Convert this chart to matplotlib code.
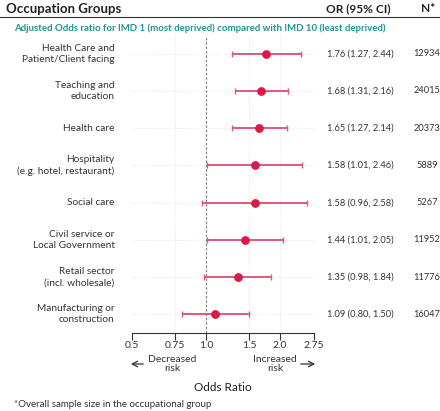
import matplotlib
matplotlib.use("Agg")
import matplotlib.pyplot as plt
import numpy as np

plt.rcParams['font.family'] = ['Lato', 'DejaVu Sans']

groups = ["Health Care and\nPatient/Client facing", "Teaching and\neducation", "Health care",
          "Hospitality\n(e.g. hotel, restaurant)", "Social care", "Civil service or\nLocal Government",
          "Retail sector\n(incl. wholesale)", "Manufacturing or\nconstruction"]
odds = [1.76, 1.68, 1.65, 1.58, 1.58, 1.44, 1.35, 1.09]
lower = [1.27, 1.31, 1.27, 1.01, 0.96, 1.01, 0.98, 0.80]
upper = [2.44, 2.16, 2.14, 2.46, 2.58, 2.05, 1.84, 1.50]
n_obs = [12934, 24015, 20373, 5889, 5267, 11952, 11776, 16047]
xticks = [0.5, 0.75, 1.0, 1.5, 2.0, 2.75]
xtick_labels = ["0.5", "0.75", "1.0", "1.5", "2.0", "2.75"]

W, H = 440, 411
fig = plt.figure(figsize=(W / 100, H / 100), dpi=100)

def fx(px):
    return px / W

def fy(py):
    return 1 - py / H

# axes: x 132..314 px, y 37..333 px
ax = fig.add_axes([fx(132), fy(333), fx(314 - 132), (333 - 37) / H])
ypos = np.arange(len(groups))[::-1]
ax.set_xscale('log')
ax.set_xlim(0.5, 2.75)
ax.set_ylim(-0.5, len(groups) - 0.55)

for y in ypos:
    ax.axhline(y, color='#e6e6e6', lw=0.8, ls=(0, (1, 1.5)), zorder=0)
for t in xticks[1:-1]:
    ax.axvline(t, color='#e6e6e6', lw=0.8, ls=(0, (1, 1.5)), zorder=0)
ax.axvline(1.0, color='#888888', lw=0.9, ls=(0, (2, 1.5)), zorder=1)

err = [np.array(odds) - np.array(lower), np.array(upper) - np.array(odds)]
ax.errorbar(odds, ypos, xerr=err, fmt='none', ecolor='#e0587a', elinewidth=1.4,
            capsize=2.5, capthick=1.0, zorder=2)
ax.scatter(odds, ypos, s=28, color='#d81b45', zorder=3)

ax.set_xticks(xticks)
ax.set_xticklabels(xtick_labels, fontsize=7.5, color='#333333')
ax.xaxis.set_minor_locator(matplotlib.ticker.NullLocator())
ax.tick_params(axis='x', length=5, width=0.8, color='#333333', pad=1)
ax.set_yticks([])
for s in ['top', 'right', 'left']:
    ax.spines[s].set_visible(False)
ax.spines['bottom'].set_color('#333333')

# row texts
for y, g, o, lo, hi, n in zip(ypos, groups, odds, lower, upper, n_obs):
    ax.text(-0.095, y, g, transform=ax.get_yaxis_transform(), ha='right', va='center',
            fontsize=7.3, color='#333333', linespacing=1.3)
    ax.text(1.256, y, f"{o:.2f} ({lo:.2f}, {hi:.2f})", transform=ax.get_yaxis_transform(),
            ha='center', va='center', fontsize=6.7, color='#333333')
    ax.text(1.62, y, f"{n}", transform=ax.get_yaxis_transform(),
            ha='center', va='center', fontsize=6.7, color='#333333')

# header
fig.text(fx(6), fy(9), "Occupation Groups", fontsize=9.5, fontweight='bold', color='#222222', va='center')
fig.text(fx(358), fy(9), "OR (95% CI)", fontsize=8.6, fontweight='bold', color='#222222', va='center', ha='center')
fig.text(fx(428), fy(9), "N*", fontsize=8.6, fontweight='bold', color='#222222', va='center', ha='center')
fig.add_artist(plt.Line2D([0, 1], [fy(17), fy(17)], color='#333333', lw=0.8))
fig.text(fx(14), fy(28), "Adjusted Odds ratio for IMD 1 (most deprived) compared with IMD 10 (least deprived)",
         fontsize=6.9, fontweight='bold', color='#1f9490', va='center')

# risk arrows
fig.text(fx(172), fy(364), "Decreased\nrisk", fontsize=7.5, color='#333333', ha='center', va='center', linespacing=1.05)
fig.text(fx(275), fy(364), "Increased\nrisk", fontsize=7.5, color='#333333', ha='center', va='center', linespacing=1.05)
fig.add_artist(matplotlib.patches.FancyArrowPatch((fx(146), fy(364)), (fx(128), fy(364)), transform=fig.transFigure,
               arrowstyle='->', mutation_scale=10, lw=0.9, color='#333333'))
fig.add_artist(matplotlib.patches.FancyArrowPatch((fx(298), fy(364)), (fx(318), fy(364)), transform=fig.transFigure,
               arrowstyle='->', mutation_scale=10, lw=0.9, color='#333333'))
fig.text(fx(223), fy(387), "Odds Ratio", fontsize=8.5, color='#222222', ha='center', va='center')
fig.text(fx(14), fy(404), "*Overall sample size in the occupational group", fontsize=7, color='#333333', va='center')

fig.savefig("out.png", dpi=100)
